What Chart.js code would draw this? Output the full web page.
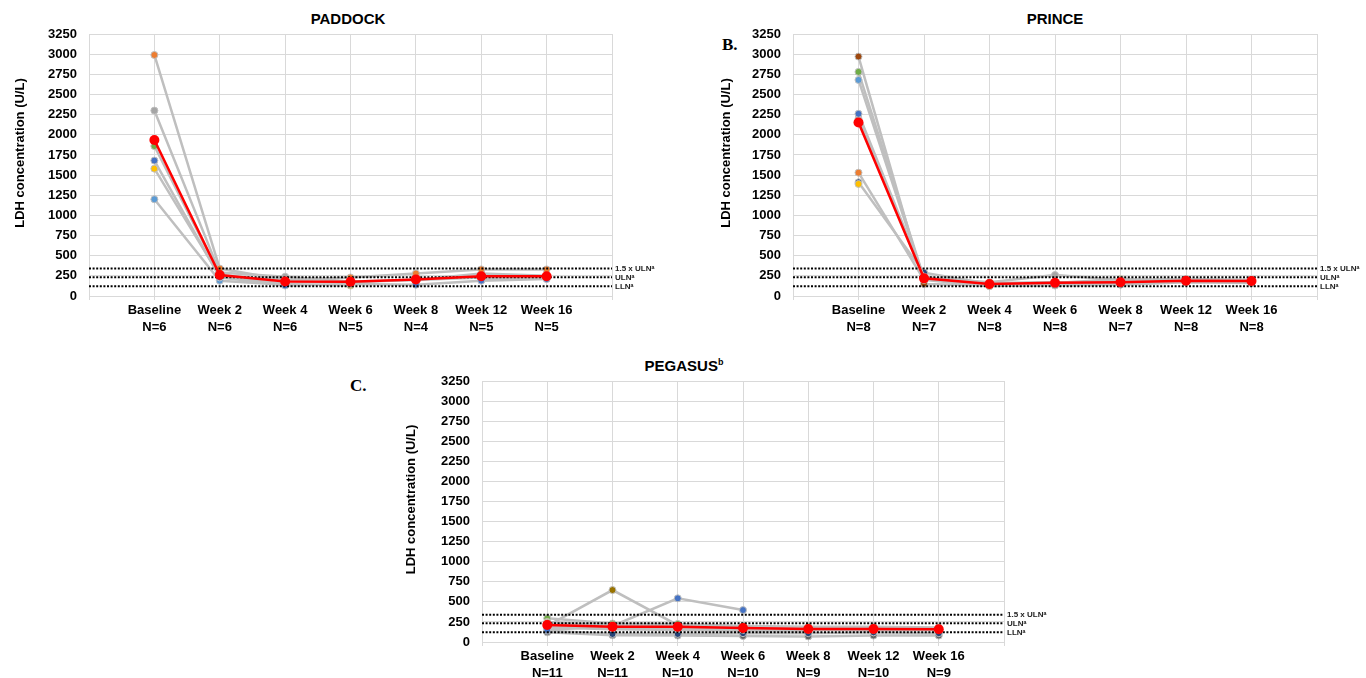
<!DOCTYPE html>
<html>
<head>
<meta charset="utf-8">
<script src="https://cdn.jsdelivr.net/npm/chart.js@4.4.0/dist/chart.umd.min.js"></script>
<style>
  html, body { margin: 0; padding: 0; background: #ffffff; }
  body { width: 1366px; height: 678px; position: relative; overflow: hidden; font-family: "Liberation Sans", Arial, sans-serif; }
  .cv { position: absolute; }
  .title { position: absolute; font-weight: bold; font-size: 15px; color: #000; white-space: nowrap; transform: translate(-50%, -50%); }
  .title sup { font-size: 9px; }
  .letter { position: absolute; font-family: "Liberation Serif", "DejaVu Serif", serif; font-weight: bold; font-size: 17px; color: #000; transform: translate(0, -50%); }
</style>
</head>
<body>
<div class="title" style="left:348px; top:18px;">PADDOCK</div>
<div class="title" style="left:1055px; top:18px;">PRINCE</div>
<div class="title" style="left:684px; top:365px;">PEGASUS<sup>b</sup></div>
<div class="letter" style="left:722px; top:45px;">B.</div>
<div class="letter" style="left:350px; top:386px;">C.</div>

<div class="cv" style="left:0px; top:0px; width:680px; height:340px;"><canvas id="cA"></canvas></div>
<div class="cv" style="left:690px; top:0px; width:676px; height:340px;"><canvas id="cB"></canvas></div>
<div class="cv" style="left:340px; top:340px; width:740px; height:338px;"><canvas id="cC"></canvas></div>

<script>
// ---------- Data ----------
const visits = ["Baseline", "Week 2", "Week 4", "Week 6", "Week 8", "Week 12", "Week 16"];
const yTicks = [0, 250, 500, 750, 1000, 1250, 1500, 1750, 2000, 2250, 2500, 2750, 3000, 3250];

// Reference limits (U/L)
const refValues = [340, 232, 120];
const refLabels = ["1.5 x ULN\u1D43", "ULN\u1D43", "LLN\u1D43"];

// PADDOCK
const paddockN = ["N=6", "N=6", "N=6", "N=5", "N=4", "N=5", "N=5"];
const paddockMean = [1935, 260, 180, 176, 206, 245, 245];
const paddockBlue      = [1680, 230, 130, 150, 140, 190, 210];
const paddockOrange    = [2990, 340, 200, 230, 280, 330, 330];
const paddockGray      = [2300, 290, 240, 180, 200, 230, 220];
const paddockYellow    = [1580, 250, 150, 130, null, 200, 230];
const paddockLightBlue = [1200, 190, 140, null, null, null, null];
const paddockGreen     = [1860, 260, 190, 170, 200, 280, 250];

// PRINCE
const princeN = ["N=8", "N=7", "N=8", "N=8", "N=7", "N=8", "N=8"];
const princeMean = [2152, 219, 149, 165, 170, 190, 186];
const princeBlue      = [2260, 240, 150, 170, 170, 200, 190];
const princeOrange    = [1530, 200, 120, 150, 160, 180, 170];
const princeGray      = [2200, 230, 170, 260, 200, 210, 200];
const princeYellow    = [1390, null, 140, 160, 210, 190, 190];
const princeLightBlue = [2680, 210, 130, 140, 150, 180, 180];
const princeGreen     = [2780, 220, 160, 170, null, 200, 200];
const princeDarkBlue  = [1410, 290, 150, 150, 160, 180, 190];
const princeBrown     = [2970, 150, 130, 130, 140, 170, 160];

// PEGASUS
const pegasusN = ["N=11", "N=11", "N=10", "N=10", "N=9", "N=10", "N=9"];
const pegasusMean = [212, 191, 191, 174, 162, 162, 158];
const pegBlue      = [150, 200, 544, 398, null, 180, null];
const pegOrange    = [240, 190, 180, 170, 170, 170, 160];
const pegGray      = [200, 180, 170, 160, 160, 150, 150];
const pegYellow    = [250, 210, 190, null, 170, 160, 170];
const pegLightBlue = [190, 170, 160, 150, 150, 160, 150];
const pegGreen     = [295, 230, 225, 200, 190, 190, 180];
const pegDarkBlue  = [140, 100, 100, 110, 110, 120, 110];
const pegBrown     = [230, 180, null, 180, null, 170, 170];
const pegDarkGray  = [120, 83, 80, 75, 70, 80, 80];
const pegOlive     = [200, 647, 210, 190, 180, 180, 170];
const pegSteel     = [180, 160, 150, 140, 140, null, null];

// ---------- Styles ----------
const C = {
  blue: "#4472C4", orange: "#ED7D31", gray: "#A5A5A5", yellow: "#FFC000",
  lightBlue: "#5B9BD5", green: "#70AD47", darkBlue: "#264478", brown: "#9E480E",
  darkGray: "#636363", olive: "#997300", steel: "#255E91"
};
const LINE_GRAY = "#bfbfbf";
const GRID = "#d9d9d9";
const FONT = "'Liberation Sans', Arial, sans-serif";

function toXY(arr) {
  return arr.map((v, i) => ({ x: i + 1, y: v }));
}
function patient(arr, color) {
  return {
    data: toXY(arr), borderColor: LINE_GRAY, borderWidth: 2.5,
    pointBackgroundColor: color, pointBorderColor: LINE_GRAY, pointBorderWidth: 1,
    pointRadius: 3.5, tension: 0, order: 3
  };
}
function mean(arr) {
  return {
    data: toXY(arr), borderColor: "#ff0000", borderWidth: 2.5,
    pointBackgroundColor: "#ff0000", pointBorderColor: "#ff0000", pointBorderWidth: 0,
    pointRadius: 5, tension: 0, order: 0
  };
}
function refLines() {
  return refValues.map(v => ({
    data: [{ x: 0, y: v }, { x: 8, y: v }], borderColor: "#000", borderWidth: 2,
    borderDash: [2, 1.6], pointRadius: 0, order: 1
  }));
}

const sidePlugin = {
  id: "sideText",
  afterDraw(chart, args, opts) {
    const { ctx, chartArea } = chart;
    const ys = chart.scales.y;
    ctx.save();
    ctx.fillStyle = "#222";
    ctx.font = "bold 8px " + FONT;
    ctx.textAlign = "left";
    ctx.textBaseline = "middle";
    refValues.forEach((v, i) => {
      ctx.fillText(refLabels[i], chartArea.right + 3, ys.getPixelForValue(v));
    });
    // y axis title
    ctx.translate(opts.titleX, (chartArea.top + chartArea.bottom) / 2 - 12);
    ctx.rotate(-Math.PI / 2);
    ctx.fillStyle = "#000";
    ctx.font = "bold 13px " + FONT;
    ctx.textAlign = "center";
    ctx.fillText("LDH concentration (U/L)", 0, 0);
    ctx.restore();
  }
};

function makeChart(id, datasets, nLabels, cfg) {
  return new Chart(document.getElementById(id), {
    type: "line",
    data: { datasets: datasets },
    plugins: [sidePlugin],
    options: {
      responsive: true, maintainAspectRatio: false, animation: false,
      devicePixelRatio: 1,
      layout: { padding: { left: 0, top: cfg.top, right: cfg.right, bottom: 0 } },
      plugins: { legend: { display: false }, tooltip: { enabled: false }, sideText: { titleX: cfg.titleX } },
      scales: {
        x: {
          type: "linear", min: 0, max: 8,
          afterFit(s) { s.height = cfg.xh; },
          afterBuildTicks(s) { s.ticks = [0, 1, 2, 3, 4, 5, 6, 7, 8].map(v => ({ value: v })); },
          grid: { color: GRID, lineWidth: 1, drawTicks: true, tickLength: 4, tickColor: GRID },
          border: { color: GRID },
          ticks: {
            autoSkip: false, maxRotation: 0, padding: 2, color: "#000",
            font: { family: FONT, size: 13, weight: "bold", lineHeight: 1.3 },
            callback: (v) => (v >= 1 && v <= 7) ? [visits[v - 1], nLabels[v - 1]] : ""
          }
        },
        y: {
          min: 0, max: 3250,
          afterFit(s) { s.width = cfg.yw; },
          afterBuildTicks(s) { s.ticks = yTicks.map(v => ({ value: v })); },
          grid: { color: GRID, lineWidth: 1, drawTicks: false },
          border: { color: GRID },
          ticks: {
            padding: 12, color: "#000",
            font: { family: FONT, size: 13, weight: "bold" },
            callback: (v) => String(v)
          }
        }
      }
    }
  });
}

makeChart("cA", [
  mean(paddockMean), ...refLines(),
  patient(paddockBlue, C.blue), patient(paddockOrange, C.orange), patient(paddockGray, C.gray),
  patient(paddockYellow, C.yellow), patient(paddockLightBlue, C.lightBlue), patient(paddockGreen, C.green)
], paddockN, { top: 34, right: 68, xh: 44, yw: 89, titleX: 20 });

makeChart("cB", [
  mean(princeMean), ...refLines(),
  patient(princeBlue, C.blue), patient(princeOrange, C.orange), patient(princeGray, C.gray),
  patient(princeYellow, C.yellow), patient(princeLightBlue, C.lightBlue), patient(princeGreen, C.green),
  patient(princeDarkBlue, C.darkBlue), patient(princeBrown, C.brown)
], princeN, { top: 34, right: 49, xh: 44, yw: 103, titleX: 36 });

makeChart("cC", [
  mean(pegasusMean), ...refLines(),
  patient(pegBlue, C.blue), patient(pegOrange, C.orange), patient(pegGray, C.gray),
  patient(pegYellow, C.yellow), patient(pegLightBlue, C.lightBlue), patient(pegGreen, C.green),
  patient(pegDarkBlue, C.darkBlue), patient(pegBrown, C.brown), patient(pegDarkGray, C.darkGray),
  patient(pegOlive, C.olive), patient(pegSteel, C.steel)
], pegasusN, { top: 41, right: 76, xh: 36, yw: 142, titleX: 71 });
</script>
</body>
</html>
